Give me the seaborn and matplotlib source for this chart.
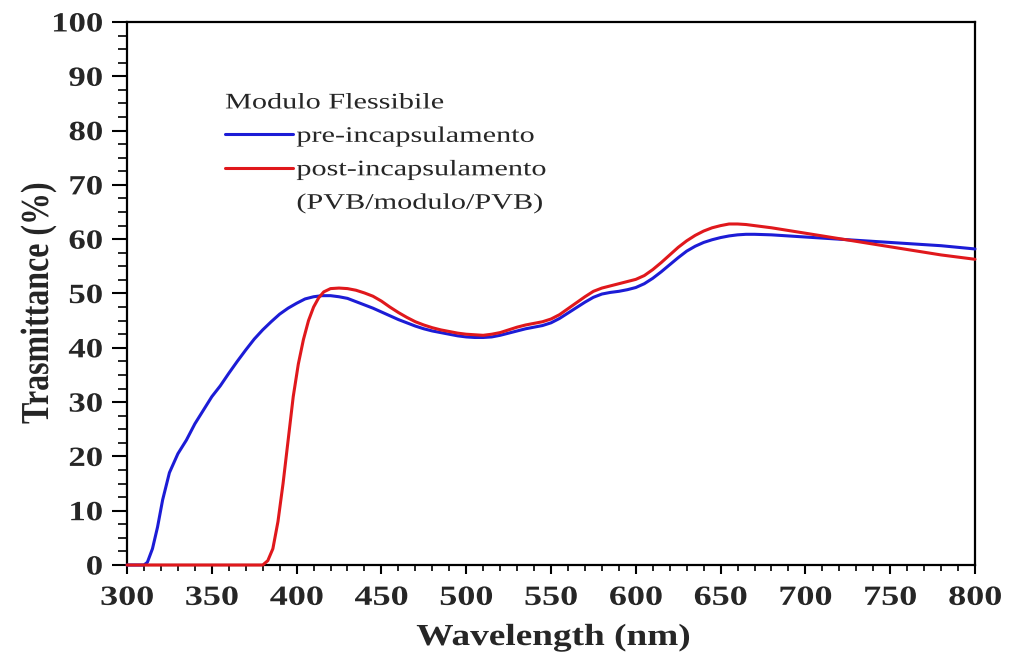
import matplotlib
matplotlib.use("Agg")
import matplotlib.pyplot as plt
from matplotlib.ticker import MultipleLocator
from matplotlib.lines import Line2D
from matplotlib.patheffects import AbstractPathEffect
from matplotlib.transforms import Affine2D
import pandas as pd
import seaborn as sns

# Transmittance spectra of the flexible module, before and after encapsulation
wl_pre = [300, 305, 310, 312, 315, 318, 321, 325, 330, 335, 340, 345, 350, 355, 360,
          365, 370, 375, 380, 385, 390, 395, 400, 405, 410, 415, 420, 425, 430, 435,
          440, 445, 450, 455, 460, 465, 470, 475, 480, 485, 490, 495, 500, 505, 510,
          515, 520, 525, 530, 535, 540, 545, 550, 555, 560, 565, 570, 575, 580, 585,
          590, 595, 600, 605, 610, 615, 620, 625, 630, 635, 640, 645, 650, 655, 660,
          665, 670, 680, 690, 700, 710, 720, 730, 740, 750, 760, 770, 780, 790, 800]
t_pre = [0, 0, 0, 0.5, 3, 7, 12, 17, 20.5, 23, 26, 28.5, 31, 33, 35.3,
         37.5, 39.6, 41.6, 43.3, 44.8, 46.2, 47.3, 48.2, 49.0, 49.4, 49.6, 49.6, 49.4, 49.1, 48.5,
         47.9, 47.3, 46.6, 45.9, 45.2, 44.6, 44.0, 43.5, 43.1, 42.8, 42.5, 42.2, 42.0, 41.9, 41.9,
         42.0, 42.3, 42.7, 43.1, 43.5, 43.8, 44.1, 44.6, 45.4, 46.4, 47.4, 48.4, 49.3, 49.9, 50.2,
         50.4, 50.7, 51.1, 51.8, 52.8, 54.0, 55.3, 56.6, 57.8, 58.7, 59.4, 59.9, 60.3, 60.6, 60.8,
         60.9, 60.9, 60.8, 60.6, 60.4, 60.2, 60.0, 59.8, 59.6, 59.4, 59.2, 59.0, 58.8, 58.5, 58.2]

wl_post = [300, 310, 320, 330, 340, 350, 360, 370, 380, 383, 386, 389, 392, 395, 398,
           401, 404, 407, 410, 413, 416, 420, 425, 430, 435, 440, 445, 450, 455, 460,
           465, 470, 475, 480, 485, 490, 495, 500, 505, 510, 515, 520, 525, 530, 535,
           540, 545, 550, 555, 560, 565, 570, 575, 580, 585, 590, 595, 600, 605, 610,
           615, 620, 625, 630, 635, 640, 645, 650, 655, 660, 665, 670, 680, 690, 700,
           710, 720, 730, 740, 750, 760, 770, 780, 790, 800]
t_post = [0, 0, 0, 0, 0, 0, 0, 0, 0, 0.8, 3, 8, 15, 23, 31,
          37, 41.5, 45, 47.5, 49.2, 50.3, 50.9, 51.0, 50.9, 50.6, 50.1, 49.5, 48.6, 47.5, 46.5,
          45.6, 44.8, 44.2, 43.7, 43.3, 43.0, 42.7, 42.5, 42.4, 42.3, 42.5, 42.8, 43.3, 43.8, 44.2,
          44.5, 44.8, 45.3, 46.1, 47.2, 48.3, 49.4, 50.4, 51.0, 51.4, 51.8, 52.2, 52.6, 53.3, 54.4,
          55.7, 57.1, 58.5, 59.7, 60.7, 61.5, 62.1, 62.5, 62.8, 62.8, 62.7, 62.5, 62.1, 61.6, 61.1,
          60.6, 60.1, 59.6, 59.1, 58.6, 58.1, 57.6, 57.1, 56.7, 56.3]

series_names = ["pre-incapsulamento", "post-incapsulamento"]
post_note = "(PVB/modulo/PVB)"
legend_title = "Modulo Flessibile"
colors = ["#1c1cd6", "#e0181c"]


class Stretch(AbstractPathEffect):
    """Draw text widened along its own x (and optionally y) direction."""

    def __init__(self, sx=1.0, sy=1.0, anchor="left"):
        super().__init__()
        self.sx, self.sy, self.anchor = sx, sy, anchor

    def draw_path(self, renderer, gc, tpath, affine, rgbFace=None):
        ext = tpath.get_extents()
        if self.anchor == "center":
            x0 = (ext.x0 + ext.x1) / 2
        elif self.anchor == "right":
            x0 = ext.x1
        else:
            x0 = 0.0
        t = Affine2D().translate(-x0, 0).scale(self.sx, self.sy).translate(x0, 0) + affine
        renderer.draw_path(gc, tpath, t, rgbFace)


df = pd.concat([
    pd.DataFrame({"wl": wl_pre, "T": t_pre, "serie": series_names[0]}),
    pd.DataFrame({"wl": wl_post, "T": t_post, "serie": series_names[1]}),
], ignore_index=True)

sns.set_theme(style="white")
plt.rcParams["font.family"] = ["Liberation Serif", "DejaVu Serif"]

fig = plt.figure(figsize=(10.17, 6.56), dpi=100)
ax = fig.add_axes([0.1249, 0.1387, 0.8338, 0.8278])

sns.lineplot(data=df, x="wl", y="T", hue="serie", palette=colors,
             hue_order=series_names, estimator=None, sort=False,
             linewidth=2.2, ax=ax, legend=False)
# the zero-transmittance stretch sits on the bottom spine; keep it whole and on top
for ln in ax.get_lines():
    ln.set_clip_on(False)
    ln.set_zorder(3)

ax.set_xlim(300, 800)
ax.set_ylim(0, 100)
ax.xaxis.set_major_locator(MultipleLocator(50))
ax.xaxis.set_minor_locator(MultipleLocator(10))
ax.yaxis.set_major_locator(MultipleLocator(10))
ax.yaxis.set_minor_locator(MultipleLocator(2.5))

ax.tick_params(axis="x", which="major", direction="out", length=6.5, width=1.5,
               color="black", labelsize=20, pad=8.5)
ax.tick_params(axis="x", which="minor", direction="out", length=4.3, width=1.2,
               color="black")
ax.tick_params(axis="y", which="major", direction="out", length=10.5, width=1.5,
               color="black", labelsize=20, pad=7)
ax.tick_params(axis="y", which="minor", direction="out", length=6.5, width=1.2,
               color="black")
ax.tick_params(bottom=True, left=True, top=False, right=False, which="both")

for sp in ax.spines.values():
    sp.set_color("black")
    sp.set_linewidth(1.6)
    sp.set_visible(True)

ax.set_xlabel("Wavelength (nm)", fontsize=22, fontweight="bold")
ax.set_ylabel("Trasmittance (%)", fontsize=23, fontweight="bold")
ax.xaxis.set_label_coords(0.503, -0.1473)
ax.xaxis.label.set_va("baseline")
ax.yaxis.set_label_coords(-0.0932, 0.4825)
ax.yaxis.label.set_va("baseline")
ax.xaxis.label.set_path_effects([Stretch(1.22, 1.0, "center")])
ax.yaxis.label.set_path_effects([Stretch(1.0, 1.24, "center")])

handles = [Line2D([], [], color=c, linewidth=2.2) for c in colors]
handles.append(Line2D([], [], color="none"))
leg = ax.legend(handles, series_names + [post_note], title=legend_title,
                loc="upper left", bbox_to_anchor=(0.1156, 0.8666), frameon=False,
                fontsize=16, title_fontsize=16, handlelength=3.06, handletextpad=0.15,
                borderpad=0, borderaxespad=0, labelspacing=0.58, alignment="left")
for txt in leg.get_texts() + [leg.get_title()]:
    txt.set_path_effects([Stretch(1.36, 1.0, "left")])

fig.canvas.draw()
for tick in ax.xaxis.get_major_ticks():
    tick.label1.set_fontweight("bold")
    tick.label1.set_path_effects([Stretch(1.3, 1.0, "center")])
for tick in ax.yaxis.get_major_ticks():
    tick.label1.set_fontweight("bold")
    tick.label1.set_path_effects([Stretch(1.25, 1.0, "right")])

fig.savefig("out.png", dpi=100, facecolor="white")
